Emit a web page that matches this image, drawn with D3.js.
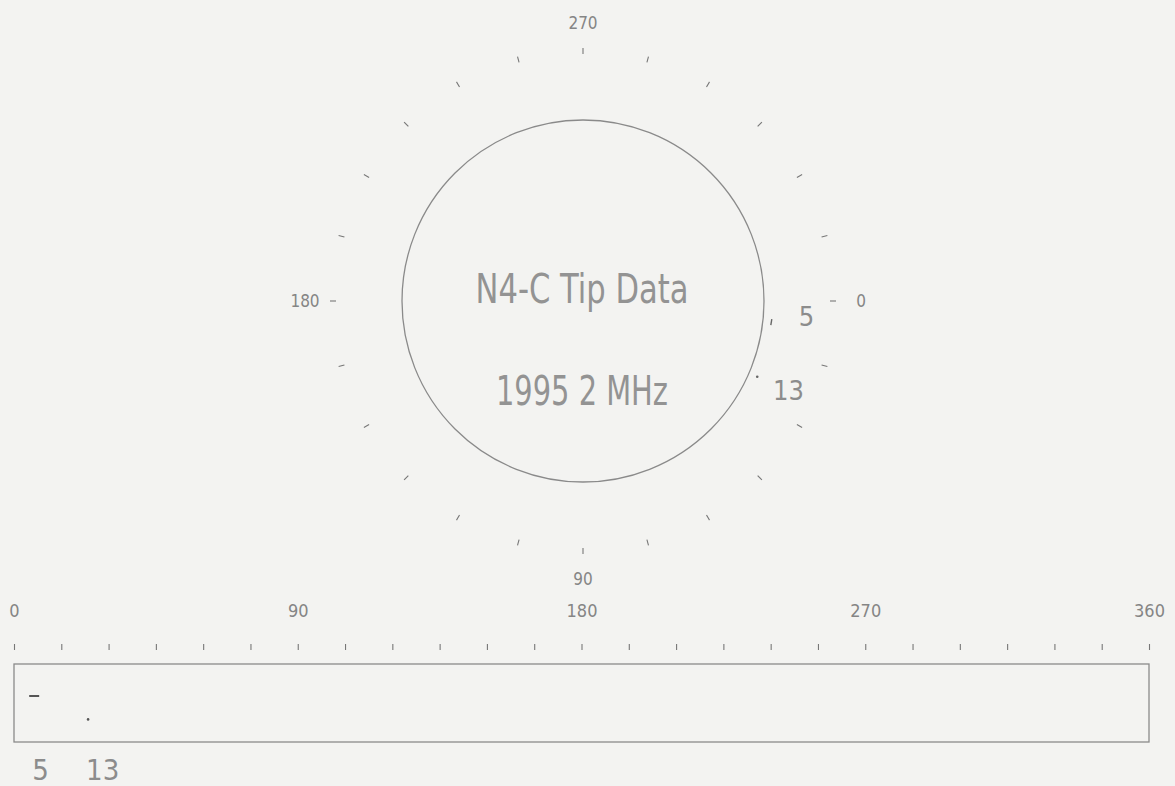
<!DOCTYPE html>
<html>
<head>
<meta charset="utf-8">
<script src="https://cdn.jsdelivr.net/npm/d3@7"></script>
<style>
  body { margin: 0; background: #f3f3f1; }
  svg { display: block; }
  text { font-family: "DejaVu Sans Condensed", "Liberation Sans Narrow", sans-serif; fill: #858585; font-weight: 300; }
</style>
</head>
<body>
<script>
//tip data points (id, angle in degrees, position inside the strip, marker)
var tipIds = ["5", "13"];
var tipAngles = [6.4, 23.5];
var tipDepths = [41, 71];
var tipMarks = ["dash", "dot"];

//title lines in the circle
var titleLines = ["N4-C Tip Data", "1995 2 MHz"];

//tick labels
var polarLabels = [0, 90, 180, 270];
var stripLabels = [0, 90, 180, 270, 360];
var tickStep = 15;

document.addEventListener("DOMContentLoaded", init);

function init(){
    var width = 1175, height = 786;

    var svg = d3.select("body").append("svg")
        .attr("width", width)
        .attr("height", height);

    svg.append("rect")
        .attr("width", width)
        .attr("height", height)
        .attr("fill", "#f3f3f1");

    /* POLAR PLOT */
    var cx = 583, cy = 301, circleR = 181;
    var angle = d3.scaleLinear().domain([0, 360]).range([0, 2 * Math.PI]);
    //point at given angle and radius, 0 right, 90 down (clockwise)
    function polar(deg, r){
        return [cx + r * Math.cos(angle(deg)), cy + r * Math.sin(angle(deg))];
    }

    var polarG = svg.append("g");

    polarG.append("circle")
        .attr("cx", cx)
        .attr("cy", cy)
        .attr("r", circleR)
        .attr("fill", "none")
        .attr("stroke", "#8a8a8a")
        .attr("stroke-width", 1.3);

    //ticks every 15 degrees
    polarG.selectAll(".ptick")
        .data(d3.range(0, 360, tickStep))
        .enter()
        .append("line")
        .attr("class", "ptick")
        .attr("x1", d => polar(d, 247)[0])
        .attr("y1", d => polar(d, 247)[1])
        .attr("x2", d => polar(d, 253)[0])
        .attr("y2", d => polar(d, 253)[1])
        .attr("stroke", "#777")
        .attr("stroke-width", 1.1);

    polarG.selectAll(".plabel")
        .data(polarLabels)
        .enter()
        .append("text")
        .attr("class", "plabel")
        .attr("x", d => polar(d, 278)[0])
        .attr("y", d => polar(d, 278)[1])
        .attr("text-anchor", "middle")
        .attr("dominant-baseline", "central")
        .style("font-size", "17px")
        .text(d => d);

    //title inside the circle
    var titleWidths = [213, 172];
    polarG.selectAll(".title")
        .data(titleLines)
        .enter()
        .append("text")
        .attr("class", "title")
        .attr("x", 582)
        .attr("y", (d, i) => 303 + i * 102)
        .attr("text-anchor", "middle")
        .attr("textLength", (d, i) => titleWidths[i])
        .attr("lengthAdjust", "spacingAndGlyphs")
        .style("font-size", "41px")
        .style("font-weight", "200")
        .style("fill", "#939393")
        .text(d => d);

    //tip points around the circle
    var tips = tipIds.map((id, i) => ({id: id, angle: tipAngles[i], depth: tipDepths[i], mark: tipMarks[i]}));

    tips.forEach(function(t){
        var p = polar(t.angle, circleR + 9);
        if (t.mark === "dash"){
            polarG.append("line")
                .attr("x1", p[0]).attr("y1", p[1] - 3)
                .attr("x2", p[0] - 1).attr("y2", p[1] + 3)
                .attr("stroke", "#666")
                .attr("stroke-width", 1.4);
        } else {
            polarG.append("circle")
                .attr("cx", p[0]).attr("cy", p[1])
                .attr("r", 1.3)
                .attr("fill", "#666");
        }
        //label slightly behind the point in angle, as on the plot
        var l = polar(t.angle - (t.mark === "dash" ? 2.5 : 0), 224);
        polarG.append("text")
            .attr("x", l[0])
            .attr("y", l[1])
            .attr("text-anchor", "middle")
            .attr("dominant-baseline", "central")
            .style("font-size", "27px")
            .style("fill", "#8c8c8c")
            .text(t.id);
    });

    /* STRIP */
    var stripTop = 664, stripBottom = 742;
    var x = d3.scaleLinear().domain([0, 360]).range([14, 1149]);
    var y = d3.scaleLinear().domain([0, 100]).range([stripTop, stripBottom]);

    var axis = d3.axisTop(x)
        .tickValues(d3.range(0, 361, tickStep))
        .tickSize(6)
        .tickPadding(27)
        .tickFormat(d => stripLabels.includes(d) ? d : "");

    var axisG = svg.append("g")
        .attr("transform", "translate(0,650)")
        .call(axis);
    axisG.select(".domain").remove();
    axisG.selectAll(".tick line").attr("stroke", "#777").attr("stroke-width", 1.1);
    axisG.selectAll(".tick text")
        .attr("fill", "#858585")
        .style("font-size", "18px")
        .style("font-family", "\"DejaVu Sans Condensed\", \"Liberation Sans Narrow\", sans-serif");

    svg.append("rect")
        .attr("x", x(0))
        .attr("y", stripTop)
        .attr("width", x(360) - x(0))
        .attr("height", stripBottom - stripTop)
        .attr("fill", "none")
        .attr("stroke", "#8a8a8a")
        .attr("stroke-width", 1.3);

    tips.forEach(function(t){
        if (t.mark === "dash"){
            svg.append("line")
                .attr("x1", x(t.angle) - 5).attr("x2", x(t.angle) + 5)
                .attr("y1", y(t.depth)).attr("y2", y(t.depth))
                .attr("stroke", "#555")
                .attr("stroke-width", 2);
        } else {
            svg.append("circle")
                .attr("cx", x(t.angle))
                .attr("cy", y(t.depth))
                .attr("r", 1.3)
                .attr("fill", "#555");
        }
        svg.append("text")
            .attr("x", x(t.angle) - 2)
            .attr("y", 780)
            .style("font-size", "29px")
            .style("fill", "#8c8c8c")
            .text(t.id);
    });
}
</script>
</body>
</html>
